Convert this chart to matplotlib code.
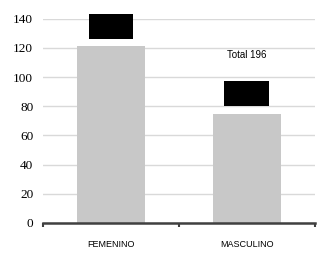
import matplotlib.pyplot as plt

# data
categories = ["FEMENINO", "MASCULINO"]
grey_values = [121, 75]
black_bottom = [126, 80]
black_top = [143, 97]
total_label = "Total 196"
total_y = 115
yticks = [0, 20, 40, 60, 80, 100, 120, 140]

fig = plt.figure(figsize=(3.27, 2.59), dpi=100)
ax = fig.add_axes([0.1315, 0.139, 0.8315, 0.789])

x = [0.5, 1.5]
ax.bar(x, grey_values, width=0.5, color="#c8c8c8", zorder=2)
heights = [t - b for t, b in zip(black_top, black_bottom)]
ax.bar(x, heights, bottom=black_bottom, width=0.33, color="black",
       zorder=3, clip_on=False)

ax.text(x[1], total_y, total_label, ha="center", va="center",
        fontsize=7, family="Liberation Sans")

ax.set_xlim(0, 2)
ax.set_ylim(0, 140)
ax.set_yticks(yticks)
ax.set_yticklabels([str(v) for v in yticks], family="Liberation Serif",
                   fontsize=9.5)
ax.tick_params(axis="y", length=0, pad=7)

ax.set_xticks([0, 1, 2])
ax.set_xticklabels([])
ax.set_xticks(x, minor=True)
ax.set_xticklabels(categories, minor=True, family="Liberation Sans",
                   fontsize=6.5)
ax.tick_params(axis="x", which="major", length=3, width=1.5,
               color="#404040")
ax.tick_params(axis="x", which="minor", length=0, pad=12)

ax.grid(axis="y", color="#d9d9d9", linewidth=1.0, zorder=0)
ax.set_axisbelow(True)
for s in ["left", "right", "top"]:
    ax.spines[s].set_visible(False)
ax.spines["bottom"].set_color("#404040")
ax.spines["bottom"].set_linewidth(1.8)

fig.savefig("out.png", dpi=100)
